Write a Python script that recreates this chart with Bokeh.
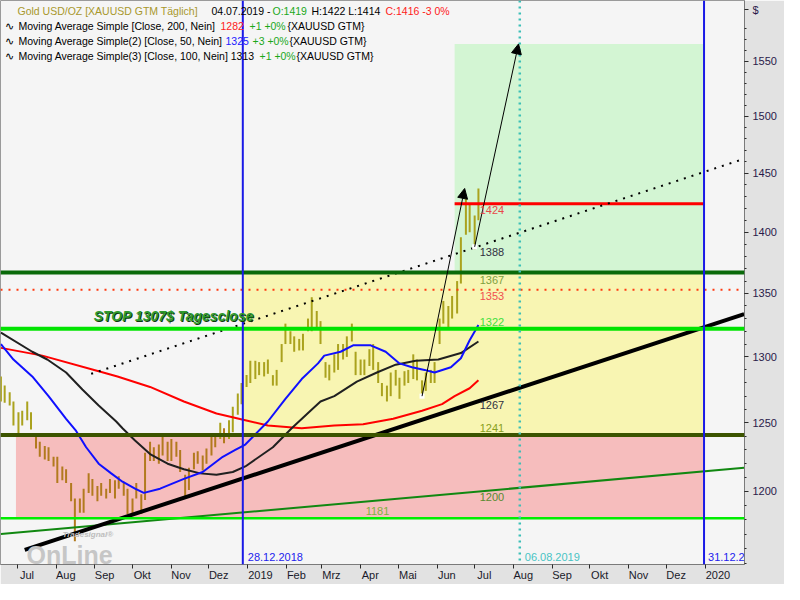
import pandas as pd
from bokeh.plotting import figure
from bokeh.models import (Range1d, FixedTicker, CustomJSTickFormatter, DatetimeAxis,
                          Span, Label, Arrow, NormalHead, ColumnDataSource)
from bokeh.embed import file_html
from bokeh.resources import INLINE

FONT = "Liberation Sans"

# ---------------- data ----------------
bar_mondays = pd.date_range("2018-06-18", "2019-07-01", freq="7D")
bar_dates = sorted(list(bar_mondays) + list(bar_mondays + pd.Timedelta(days=3)))
bar_low = [1266, 1265, 1263, 1248, 1240, 1248, 1252, 1245, 1231, 1225,
           1223, 1222, 1218, 1206, 1208, 1206, 1193, 1165, 1185, 1185,
           1199, 1197, 1193, 1197, 1195, 1199, 1195, 1202, 1197, 1184,
           1183, 1195, 1184, 1194, 1222, 1222, 1220, 1226, 1222, 1222,
           1225, 1214, 1196, 1201, 1216, 1220, 1215, 1220, 1226, 1232,
           1238, 1235, 1238, 1243, 1256, 1264, 1277, 1280, 1283, 1286,
           1285, 1287, 1278, 1278, 1296, 1310, 1310, 1304, 1305, 1305,
           1320, 1320, 1322, 1310, 1284, 1282, 1288, 1290, 1298, 1300,
           1312, 1286, 1286, 1286, 1293, 1290, 1280, 1270, 1266, 1270,
           1278, 1268, 1278, 1280, 1283, 1282, 1272, 1274, 1280, 1280,
           1310, 1326, 1322, 1330, 1334, 1358, 1398, 1400, 1386, 1410]
bar_high = [1285, 1278, 1273, 1266, 1258, 1259, 1266, 1258, 1242, 1236,
            1233, 1232, 1225, 1225, 1218, 1216, 1206, 1195, 1195, 1202,
            1213, 1209, 1204, 1206, 1202, 1209, 1208, 1211, 1207, 1202,
            1195, 1206, 1198, 1228, 1236, 1232, 1234, 1240, 1236, 1238,
            1236, 1230, 1212, 1217, 1228, 1229, 1226, 1231, 1240, 1242,
            1250, 1246, 1252, 1262, 1272, 1280, 1286, 1297, 1297, 1296,
            1296, 1298, 1286, 1290, 1310, 1326, 1320, 1316, 1314, 1318,
            1330, 1347, 1336, 1328, 1296, 1294, 1302, 1310, 1310, 1316,
            1326, 1304, 1298, 1298, 1306, 1310, 1296, 1280, 1278, 1288,
            1290, 1284, 1289, 1290, 1302, 1298, 1282, 1288, 1290, 1296,
            1330, 1344, 1340, 1348, 1360, 1396, 1428, 1424, 1414, 1437]

ma200_dates = ["2018-06-18", "2018-07-21", "2018-09-04", "2018-09-19", "2018-10-15",
               "2018-11-11", "2018-12-07", "2018-12-30", "2019-01-17", "2019-02-13",
               "2019-03-11", "2019-04-03", "2019-04-27", "2019-05-20", "2019-06-05",
               "2019-06-15", "2019-06-27", "2019-07-04"]
ma200 = [1307, 1301, 1289, 1285, 1277, 1266, 1257, 1252, 1248, 1246,
         1248, 1249, 1253, 1259, 1264, 1270, 1276, 1282]

ma50_dates = ["2018-06-18", "2018-06-28", "2018-07-13", "2018-07-26", "2018-08-09",
              "2018-08-17", "2018-08-25", "2018-09-04", "2018-09-14", "2018-09-23",
              "2018-10-03", "2018-10-10", "2018-10-23", "2018-11-11", "2018-11-26",
              "2018-12-12", "2018-12-22", "2018-12-30", "2019-01-17", "2019-01-31",
              "2019-02-13", "2019-02-26", "2019-03-03", "2019-03-16", "2019-03-26",
              "2019-04-09", "2019-04-21", "2019-05-02", "2019-05-12", "2019-05-22",
              "2019-05-30", "2019-06-12", "2019-06-20", "2019-06-27", "2019-07-04"]
ma50 = [1310, 1298, 1285, 1270, 1253, 1244, 1232, 1220, 1213, 1207,
        1202, 1199, 1202, 1209, 1214, 1225, 1230, 1234, 1251, 1268,
        1283, 1295, 1301, 1304, 1309, 1309, 1304, 1295, 1292, 1290,
        1288, 1292, 1299, 1313, 1325]

ma100_dates = ["2018-06-18", "2018-07-13", "2018-07-25", "2018-08-09", "2018-08-22",
               "2018-09-04", "2018-09-18", "2018-09-23", "2018-10-03", "2018-10-15",
               "2018-10-29", "2018-11-11", "2018-11-24", "2018-12-07", "2018-12-20",
               "2018-12-30", "2019-01-21", "2019-02-05", "2019-02-20", "2019-02-28",
               "2019-03-11", "2019-03-29", "2019-04-14", "2019-04-29", "2019-05-15",
               "2019-06-02", "2019-06-20", "2019-07-04"]
ma100 = [1319, 1304, 1298, 1288, 1275, 1263, 1251, 1246, 1237, 1227,
         1220, 1216, 1213, 1212, 1214, 1218, 1232, 1246, 1259, 1266,
         1270, 1281, 1288, 1294, 1297, 1298, 1303, 1312]

# zones
zone_left = ["2018-06-30", "2018-12-28", "2019-06-15"]
zone_right = ["2019-12-31", "2019-12-31", "2019-12-31"]
zone_bottom = [1181, 1241, 1367]
zone_top = [1241, 1367, 1566]
zone_colors = ["#f6bdbd", "#f8f5b2", "#d3f5d3"]

# trend lines
trend_black = (["2018-07-07", "2020-02-01"], [1159, 1333.5])
trend_green = (["2018-06-18", "2020-02-01"], [1170, 1217])
trend_dots = (["2018-08-29", "2020-02-01"], [1287, 1462.6])
arrow1 = (("2019-05-20", 1270), ("2019-06-23", 1437))
arrow2 = (("2019-07-01", 1388), ("2019-08-05", 1566))
resistance_1424 = (["2019-06-15", "2019-12-31"], [1424, 1424])

month_ticks = ["2018-07-01", "2018-08-01", "2018-09-01", "2018-10-01", "2018-11-01",
               "2018-12-01", "2019-01-01", "2019-02-01", "2019-03-01", "2019-04-01",
               "2019-05-01", "2019-06-01", "2019-07-01", "2019-08-01", "2019-09-01",
               "2019-10-01", "2019-11-01", "2019-12-01", "2020-01-01"]
month_labels = ["Jul", "Aug", "Sep", "Okt", "Nov", "Dez", "2019", "Feb", "Mrz", "Apr",
                "Mai", "Jun", "Jul", "Aug", "Sep", "Okt", "Nov", "Dez", "2020"]
y_ticks = [1200, 1250, 1300, 1350, 1400, 1450, 1500, 1550]
currency_tick = 1598


def ms(d):
    return pd.Timestamp(d).value / 1e6


W, H = 784, 584
BR, BB = 40, 20
FW, FH = W - BR, H - BB
X0, X1 = ms("2018-06-17 16:00"), ms("2020-02-01 07:00")
PX_PER_MS = FW / (X1 - X0)

p = figure(width=W, height=H, x_axis_type="datetime", y_axis_type="log",
           y_axis_location="right",
           x_range=Range1d(X0, X1), y_range=Range1d(1149, 1607),
           output_backend="svg", toolbar_location=None,
           min_border_left=0, min_border_top=0, min_border_right=BR, min_border_bottom=BB,
           background_fill_color="#f5f5f5", border_fill_color="#e2e2e2",
           outline_line_color="#9a9a9a")
p.xgrid.visible = False
p.ygrid.visible = False

# zones
p.quad(left=pd.to_datetime(zone_left), right=pd.to_datetime(zone_right),
       bottom=zone_bottom, top=zone_top, fill_color=zone_colors, line_color=None)

# price bars
pink_start = pd.Timestamp("2018-06-30")
bar_colors = ["#b27a1e" if ((lo + hi) / 2 < 1241 and d >= pink_start) else "#aaa21e"
              for d, lo, hi in zip(bar_dates, bar_low, bar_high)]
src = ColumnDataSource(dict(x=bar_dates, lo=bar_low, hi=bar_high, c=bar_colors))
p.segment(x0="x", y0="lo", x1="x", y1="hi", line_color="c", line_width=2, source=src)

# moving averages
p.line(pd.to_datetime(ma200_dates), ma200, line_color="#ff0000", line_width=2)
p.line(pd.to_datetime(ma100_dates), ma100, line_color="#202020", line_width=2)
p.line(pd.to_datetime(ma50_dates), ma50, line_color="#1010ff", line_width=2)

# horizontal levels
p.add_layout(Span(location=1367, dimension="width", line_color="#0a6a0a", line_width=4))
p.add_layout(Span(location=1353, dimension="width", line_color="#ff3a10", line_width=2,
                  line_dash="2 6"))
p.add_layout(Span(location=1322, dimension="width", line_color="#00e400", line_width=4))
p.add_layout(Span(location=1241, dimension="width", line_color="#3c5400", line_width=4))
p.add_layout(Span(location=1181, dimension="width", line_color="#00ee00", line_width=2.5))
p.line(pd.to_datetime(resistance_1424[0]), resistance_1424[1], line_color="#ff0000", line_width=3)

# trend lines
p.line(pd.to_datetime(trend_green[0]), trend_green[1], line_color="#118811", line_width=2)
p.line(pd.to_datetime(trend_black[0]), trend_black[1], line_color="#000000", line_width=4)
p.line(pd.to_datetime(trend_dots[0]), trend_dots[1], line_color="#000000", line_width=2,
       line_dash="2 6")

# vertical lines
p.add_layout(Span(location=ms("2018-12-28"), dimension="height", line_color="#1a1ae6", line_width=2))
p.add_layout(Span(location=ms("2019-12-31"), dimension="height", line_color="#1a1ae6", line_width=2))
p.add_layout(Span(location=ms("2019-08-06"), dimension="height", line_color="#3cc0b8",
                  line_width=2.5, line_dash="2 4"))

# arrows
for (a, b) in (arrow1, arrow2):
    p.add_layout(Arrow(end=NormalHead(size=10, fill_color="black", line_color="black"),
                       x_start=ms(a[0]), y_start=a[1], x_end=ms(b[0]), y_end=b[1],
                       line_color="black", line_width=1))
p.scatter(x=pd.to_datetime([arrow1[0][0], arrow2[0][0]]), y=[arrow1[0][1], arrow2[0][1]],
          marker="square", size=5, fill_color="white", line_color=None)


def lab(x, y, text, color, size="11px", **kw):
    kw.setdefault("text_font", FONT)
    kw.setdefault("text_baseline", "middle")
    p.add_layout(Label(x=x, y=y, text=text, text_color=color, text_font_size=size, **kw))


# level labels
lx = ms("2019-07-05")
lab(lx, 1424, "1424", "#e84848", y_offset=-6)
lab(lx, 1388, "1388", "#303040", y_offset=-5)
lab(lx, 1367, "1367", "#7ea040", y_offset=-8)
lab(lx, 1353, "1353", "#f05050", y_offset=-6)
lab(lx, 1322, "1322", "#3ee03e", y_offset=7)
lab(lx, 1267, "1267", "#303040", y_offset=-5)
lab(lx, 1241, "1241", "#88a020", y_offset=7)
lab(lx, 1200, "1200", "#5a8a30", y_offset=-6)
lab(ms("2019-04-05"), 1181, "1181", "#80b040", y_offset=7)

# STOP label with shadow
lab(ms("2018-08-31"), 1322, "STOP 1307$ Tagesclose", "#0c3c0c", size="14px",
    y_offset=12, x_offset=1, text_font_style="bold italic")
lab(ms("2018-08-31"), 1322, "STOP 1307$ Tagesclose", "#2e9a2e", size="14px",
    y_offset=13, text_font_style="bold italic")

# date labels at the bottom of the frame
lab(ms("2018-12-28"), 1149, "28.12.2018", "#2222ee", x_offset=5, y_offset=8)
lab(ms("2019-08-06"), 1149, "06.08.2019", "#48c4c4", x_offset=5, y_offset=8)
lab(ms("2019-12-31"), 1149, "31.12.20", "#2222ee", x_offset=4, y_offset=8)

# watermark
lab(26, 10, "OnLine", "#c6c6c6", size="25px", x_units="screen", y_units="screen",
    text_font_style="bold")
lab(62, 30, "Tradesignal®", "#bdbdbd", size="8px", x_units="screen", y_units="screen",
    text_font_style="bold italic")

# header / legend
BLACK, GREEN, RED, BLUE, OLIVE = "#000000", "#1aa81a", "#ff1a1a", "#2020ff", "#a8982c"
header = [
    (17, 10, "Gold USD/OZ [XAUUSD GTM  Täglich]", OLIVE),
    (211, 10, "04.07.2019 -", BLACK),
    (272, 10, "O:1419", GREEN),
    (311, 10, "H:1422 L:1414", BLACK),
    (385, 10, "C:1416 -3 0%", RED),
    (4, 25, "∿", BLACK),
    (18, 25, "Moving Average Simple [Close, 200, Nein]", BLACK),
    (220, 25, "1282", RED),
    (249, 25, "+1 +0%", GREEN),
    (287, 25, "{XAUUSD GTM}", BLACK),
    (4, 40, "∿", BLACK),
    (18, 40, "Moving Average Simple(2) [Close, 50, Nein]", BLACK),
    (225, 40, "1325", BLUE),
    (252, 40, "+3 +0%", GREEN),
    (289, 40, "{XAUUSD GTM}", BLACK),
    (4, 55, "∿", BLACK),
    (18, 55, "Moving Average Simple(3) [Close, 100, Nein] 1313", BLACK),
    (259, 55, "+1 +0%", GREEN),
    (296, 55, "{XAUUSD GTM}", BLACK),
]
for x, t, text, c in header:
    lab(x, FH - t, text, c, size="10.5px", x_units="screen", y_units="screen")

# right price axis (log), with the currency sign as topmost label
ya = p.yaxis[0]
ya.ticker = FixedTicker(ticks=y_ticks + [currency_tick],
                        minor_ticks=list(range(1150, 1590, 10)))
ya.formatter = CustomJSTickFormatter(
    args=dict(cur=currency_tick),
    code="return Math.abs(tick - cur) < 1 ? '$' : String(Math.round(tick));")
ya.major_tick_out = 4
ya.major_tick_in = 0
ya.minor_tick_out = 2
ya.minor_tick_in = 0
ya.major_label_standoff = 4
ya.major_label_text_font = FONT
ya.major_label_text_font_size = "11px"
ya.major_label_text_color = "#2a1a4a"
ya.axis_line_color = "#7a7a7a"
ya.major_tick_line_color = "#2a2a2a"
ya.minor_tick_line_color = "#2a2a2a"

# time axis: tick marks at month starts ...
xa = p.xaxis[0]
xa.ticker = FixedTicker(ticks=[ms(d) for d in month_ticks])
xa.formatter = CustomJSTickFormatter(code="return '';")
xa.major_tick_out = 4
xa.major_tick_in = 0
xa.minor_tick_out = 0
xa.minor_tick_in = 0
xa.major_label_text_font_size = "1px"
xa.major_label_standoff = 0
xa.axis_line_color = "#7a7a7a"
xa.major_tick_line_color = "#2a2a2a"

# ... and month names written just to the right of each tick
label_pos = [ms(d) + (1.0 + 2.9 * len(t)) / PX_PER_MS for d, t in zip(month_ticks, month_labels)]
xb = DatetimeAxis(ticker=FixedTicker(ticks=label_pos),
                  formatter=CustomJSTickFormatter(
                      args=dict(pos=label_pos, names=month_labels),
                      code="""
let b = 0, d = Infinity;
for (let i = 0; i < pos.length; i++) { const e = Math.abs(pos[i] - tick); if (e < d) { d = e; b = i; } }
return names[b];
"""))
xb.axis_line_color = None
xb.major_tick_line_color = None
xb.minor_tick_line_color = None
xb.major_tick_out = 0
xb.major_tick_in = 0
xb.major_label_standoff = 0
xb.major_label_text_font = FONT
xb.major_label_text_font_size = "11px"
xb.major_label_text_color = "#1a1a2a"
p.add_layout(xb, "below")

open("out.html", "w").write(file_html(p, INLINE))
